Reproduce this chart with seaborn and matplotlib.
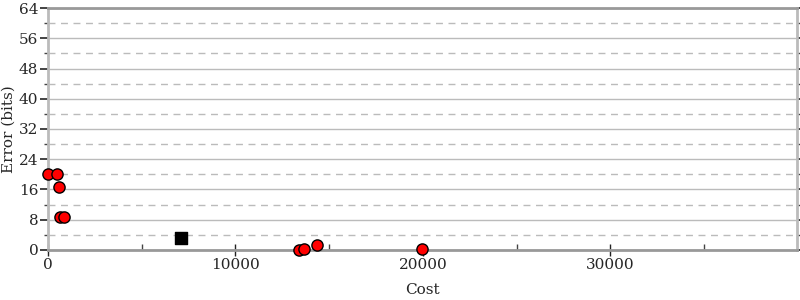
import matplotlib
matplotlib.use("Agg")
import matplotlib.pyplot as plt
import seaborn as sns
import pandas as pd
from matplotlib.ticker import MultipleLocator

sns.set_style("white")
plt.rcParams['font.family'] = ['DejaVu Serif']

# Data
other_cost = [0, 480, 590, 640, 860, 13370, 13640, 14330, 19950]
other_error = [20.0, 20.0, 16.6, 8.7, 8.7, 0.0, 0.3, 1.3, 0.3]
best_cost = [7100]
best_error = [3.2]

df_other = pd.DataFrame({"Cost": other_cost, "Error": other_error})
df_best = pd.DataFrame({"Cost": best_cost, "Error": best_error})

fig = plt.figure(figsize=(8, 3), dpi=100)
ax = fig.add_axes([0.06, 0.167, 0.936, 0.806])

ax.yaxis.set_major_locator(MultipleLocator(8))
ax.yaxis.set_minor_locator(MultipleLocator(4))
ax.xaxis.set_major_locator(MultipleLocator(10000))
ax.xaxis.set_minor_locator(MultipleLocator(5000))

ax.grid(True, which='major', axis='y', color='#bbbbbb', linestyle='-', linewidth=1)
ax.grid(True, which='minor', axis='y', color='#bbbbbb', linestyle=(0, (5, 4)), linewidth=1)
ax.set_axisbelow(True)

sns.scatterplot(data=df_other, x="Cost", y="Error", ax=ax, color='red',
                edgecolor='black', linewidth=1, s=65, marker='o', zorder=3, clip_on=False)
sns.scatterplot(data=df_best, x="Cost", y="Error", ax=ax, color='black',
                edgecolor='black', linewidth=1, s=85, marker='s', zorder=3, clip_on=False)

ax.set_xlim(0, 39950)
ax.set_ylim(0, 64)

for side in ['left', 'bottom', 'top', 'right']:
    ax.spines[side].set_color('#999999')
    ax.spines[side].set_linewidth(2)
ax.spines['left'].set_color('#bbbbbb')
ax.spines['right'].set_color('#bbbbbb')

ax.tick_params(axis='y', which='major', direction='out', length=6, width=1.2,
               color='#222222', left=True, right=True, labelsize=11, pad=1)
ax.tick_params(axis='y', which='minor', direction='out', length=3, width=1,
               color='#444444', left=True, right=True)
ax.tick_params(axis='x', which='major', direction='inout', length=8, width=1,
               color='#222222', bottom=True, labelsize=11, pad=2)
ax.tick_params(axis='x', which='minor', direction='in', length=4, width=1,
               color='#444444', bottom=True)

ax.set_xlabel("Cost", fontsize=11, labelpad=8)
ax.set_ylabel("Error (bits)", fontsize=11, labelpad=2)

fig.savefig("out.png", dpi=100)
